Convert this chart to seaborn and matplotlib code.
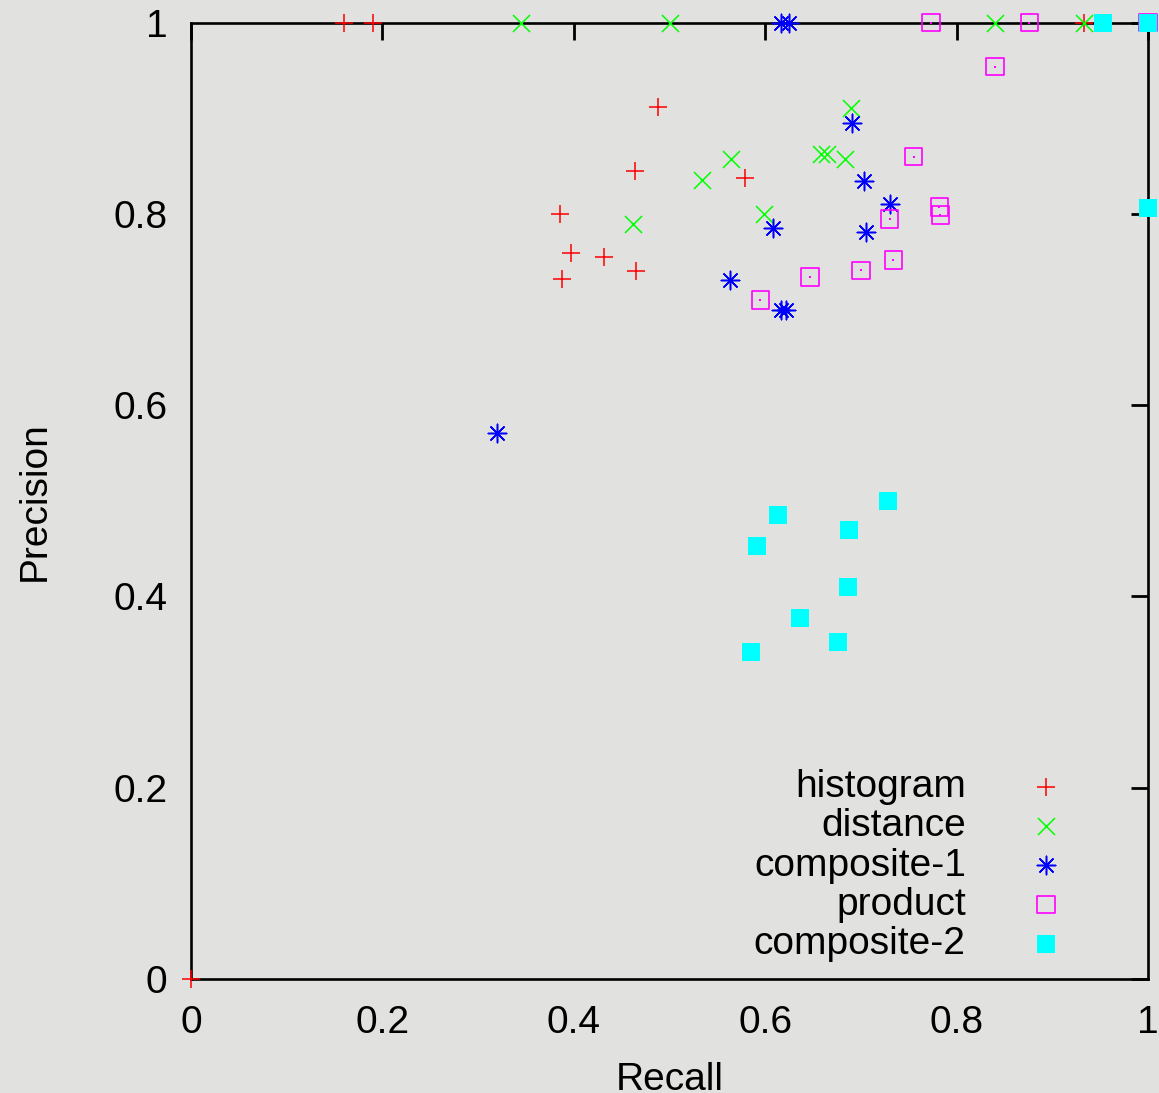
import numpy as np
import pandas as pd
import matplotlib
matplotlib.use("Agg")
import matplotlib.pyplot as plt
from matplotlib.markers import MarkerStyle
from matplotlib.ticker import FormatStrFormatter
import seaborn as sns

# ---- data ----
hist_recall = [0.0, 0.160, 0.190, 0.488, 0.464, 0.579, 0.386, 0.397, 0.432, 0.465, 0.388, 0.933]
hist_precision = [0.0, 1.0, 1.0, 0.912, 0.845, 0.838, 0.800, 0.759, 0.755, 0.740, 0.732, 1.0]

dist_recall = [0.345, 0.500, 0.840, 0.933, 0.690, 0.564, 0.534, 0.658, 0.665, 0.683, 0.599, 0.462]
dist_precision = [1.0, 1.0, 1.0, 1.0, 0.911, 0.857, 0.835, 0.863, 0.863, 0.857, 0.800, 0.790]

comp1_recall = [0.617, 0.625, 0.691, 0.703, 0.730, 0.608, 0.705, 0.563, 0.616, 0.622, 0.320]
comp1_precision = [1.0, 1.0, 0.895, 0.834, 0.810, 0.785, 0.781, 0.731, 0.700, 0.700, 0.571]

prod_recall = [0.773, 0.876, 1.0, 0.840, 0.755, 0.782, 0.783, 0.730, 0.734, 0.700, 0.647, 0.595]
prod_precision = [1.0, 1.0, 1.0, 0.954, 0.860, 0.807, 0.799, 0.795, 0.752, 0.741, 0.734, 0.710]

comp2_recall = [0.953, 1.0, 1.0, 0.728, 0.613, 0.688, 0.591, 0.687, 0.636, 0.676, 0.585]
comp2_precision = [1.0, 1.0, 0.806, 0.500, 0.485, 0.469, 0.453, 0.410, 0.377, 0.352, 0.342]

methods = ["histogram", "distance", "composite-1", "product", "composite-2"]
tick_values = [0, 0.2, 0.4, 0.6, 0.8, 1]

frames = []
for name, r, p in [("histogram", hist_recall, hist_precision),
                   ("distance", dist_recall, dist_precision),
                   ("composite-1", comp1_recall, comp1_precision),
                   ("product", prod_recall, prod_precision),
                   ("composite-2", comp2_recall, comp2_precision)]:
    frames.append(pd.DataFrame({"Recall": r, "Precision": p, "method": name}))
df = pd.concat(frames, ignore_index=True)

# ---- style ----
sns.set_theme(style="white")
plt.rcParams["font.family"] = ["Liberation Sans", "DejaVu Sans"]
BG = "#e1e1df"

colors = {"histogram": "#ff0000", "distance": "#00ff00", "composite-1": "#0000ff",
          "product": "#ff00ff", "composite-2": "#00ffff"}
markers = {"histogram": "+", "distance": "x", "composite-1": (8, 2, 0),
           "product": MarkerStyle("s", fillstyle="none"), "composite-2": "s"}
sizes = {"histogram": 150, "distance": 150, "composite-1": 175,
         "product": 160, "composite-2": 175}
lws = {"histogram": 1.1, "distance": 1.1, "composite-1": 1.1,
       "product": 1.2, "composite-2": 0}

fig = plt.figure(figsize=(11.59, 10.93), dpi=100, facecolor=BG)
ax = fig.add_axes([191 / 1159, 1 - 979 / 1093, 957 / 1159, 956.3 / 1093])
ax.set_facecolor(BG)

for m in methods:
    sub = df[df["method"] == m]
    sns.scatterplot(data=sub, x="Recall", y="Precision", ax=ax,
                    marker=markers[m], color=colors[m], s=sizes[m],
                    linewidth=lws[m], label=m, clip_on=False, zorder=3)
    if m == "product":
        sns.scatterplot(data=sub, x="Recall", y="Precision", ax=ax,
                        marker="s", color=colors[m], s=2, linewidth=0,
                        clip_on=False, zorder=3, legend=False)

ax.set_xlim(0, 1)
ax.set_ylim(0, 1)
ax.set_xticks(tick_values)
ax.set_yticks(tick_values)
ax.xaxis.set_major_formatter(FormatStrFormatter("%g"))
ax.yaxis.set_major_formatter(FormatStrFormatter("%g"))
ax.tick_params(direction="in", length=12, width=2, top=True, right=True,
               labelsize=28, colors="black")
ax.tick_params(axis="x", pad=19)
ax.tick_params(axis="y", pad=17)
for sp in ax.spines.values():
    sp.set_color("black")
    sp.set_linewidth(1.9)
    sp.set_visible(True)

ax.set_xlabel("Recall", fontsize=28, color="black")
ax.set_ylabel("Precision", fontsize=28, color="black")
ax.xaxis.set_label_coords(0.5, -0.087)
ax.yaxis.set_label_coords(-0.144, 0.5)

leg = ax.legend(loc="lower right", bbox_to_anchor=(0.9137, 0.018),
                markerfirst=False, frameon=False, fontsize=28,
                handlelength=1.0, handletextpad=1.56, labelspacing=0.08,
                borderpad=0, borderaxespad=0)
for t in leg.get_texts():
    t.set_color("black")

fig.savefig("out.png", dpi=100, facecolor=BG)
